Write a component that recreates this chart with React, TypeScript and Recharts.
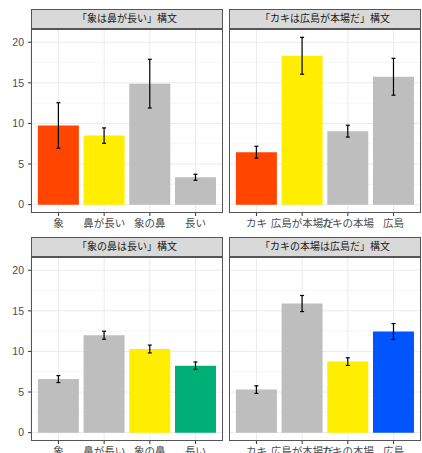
import React from "react";
import { BarChart, Bar, XAxis, YAxis, CartesianGrid, ErrorBar, Cell } from "recharts";

const titles = ["「象は鼻が長い」構文", "「カキは広島が本場だ」構文", "「象の鼻は長い」構文", "「カキの本場は広島だ」構文"];
const catsZou = ["象", "鼻が長い", "象の鼻", "長い"];
const catsKaki = ["カキ", "広島が本場だ", "カキの本場", "広島"];

const meanA = [9.75, 8.5, 14.9, 3.37];
const errA = [2.8, 0.95, 3.0, 0.37];
const colA = ["#FF4500", "#FFEE00", "#BEBEBE", "#BEBEBE"];

const meanB = [6.46, 18.33, 9.05, 15.75];
const errB = [0.73, 2.27, 0.73, 2.27];
const colB = ["#FF4500", "#FFEE00", "#BEBEBE", "#BEBEBE"];

const meanC = [6.6, 12.0, 10.3, 8.25];
const errC = [0.43, 0.49, 0.48, 0.45];
const colC = ["#BEBEBE", "#BEBEBE", "#FFEE00", "#00AF75"];

const meanD = [5.3, 15.9, 8.75, 12.45];
const errD = [0.47, 0.99, 0.47, 0.98];
const colD = ["#BEBEBE", "#BEBEBE", "#FFEE00", "#0055FF"];

const yTicks = [0, 5, 10, 15, 20];
const minorTicks = [2.5, 7.5, 12.5, 17.5];
const yDomain = [-1.03, 21.63];

const FONT = "'Liberation Sans', 'Noto Sans CJK JP', sans-serif";
const PLOT_H = 184;
const AXIS_H = 25;
const PANEL_W = 192;
const YAXIS_W = 31;

type PanelProps = {
  left: number;
  top: number;
  title: string;
  cats: string[];
  means: number[];
  errs: number[];
  colors: string[];
  showY: boolean;
};

function Panel({ left, top, title, cats, means, errs, colors, showY }: PanelProps) {
  const data = cats.map((c, i) => ({ cat: c, value: means[i], err: errs[i] }));
  const chartLeft = showY ? left - YAXIS_W : left;
  const chartW = showY ? PANEL_W + YAXIS_W : PANEL_W;
  return (
    <>
      <div
        style={{
          position: "absolute",
          left: left,
          top: top - 20,
          width: PANEL_W,
          height: 20,
          boxSizing: "border-box",
          background: "#D9D9D9",
          border: "1px solid #555",
          fontFamily: FONT,
          fontSize: 10,
          color: "#1A1A1A",
          textAlign: "center",
          lineHeight: "18px",
        }}
      >
        {title}
      </div>
      <div style={{ position: "absolute", left: chartLeft, top: top }}>
        <BarChart
          width={chartW}
          height={PLOT_H + AXIS_H}
          data={data}
          margin={{ top: 0, right: 0, bottom: 0, left: 0 }}
          barCategoryGap="5%"
        >
          <CartesianGrid
            stroke="#F2F2F2"
            strokeWidth={0.6}
            fill="#FFFFFF"
            vertical={false}
            horizontalValues={minorTicks}
          />
          <CartesianGrid stroke="#EBEBEB" strokeWidth={1} horizontalValues={yTicks} />
          <XAxis
            dataKey="cat"
            type="category"
            interval={0}
            padding={{ left: 4.6, right: 4.6 }}
            axisLine={false}
            tickLine={{ stroke: "#333333" }}
            tickSize={3}
            tickMargin={4}
            height={AXIS_H}
            tick={{ fill: "#4D4D4D", fontSize: 10.5, fontFamily: FONT }}
          />
          <YAxis
            type="number"
            domain={yDomain}
            allowDataOverflow
            ticks={yTicks}
            hide={!showY}
            width={YAXIS_W}
            axisLine={false}
            tickLine={{ stroke: "#333333" }}
            tickSize={3}
            tickMargin={4}
            tick={{ fill: "#4D4D4D", fontSize: 10.5, fontFamily: FONT }}
          />
          <Bar dataKey="value" isAnimationActive={false}>
            {data.map((d, i) => (
              <Cell key={d.cat} fill={colors[i]} />
            ))}
            <ErrorBar dataKey="err" width={2} stroke="#000000" strokeWidth={1.2} direction="y" />
          </Bar>
        </BarChart>
      </div>
      <div
        style={{
          position: "absolute",
          left: left,
          top: top,
          width: PANEL_W,
          height: PLOT_H,
          boxSizing: "border-box",
          border: "1px solid #555",
          pointerEvents: "none",
        }}
      />
    </>
  );
}

export default function App() {
  return (
    <div
      style={{
        position: "absolute",
        left: 0,
        top: 0,
        width: 422,
        height: 453,
        overflow: "hidden",
        background: "#FFFFFF",
      }}
    >
      <Panel left={31} top={29} title={titles[0]} cats={catsZou} means={meanA} errs={errA} colors={colA} showY />
      <Panel left={229} top={29} title={titles[1]} cats={catsKaki} means={meanB} errs={errB} colors={colB} showY={false} />
      <Panel left={31} top={257} title={titles[2]} cats={catsZou} means={meanC} errs={errC} colors={colC} showY />
      <Panel left={229} top={257} title={titles[3]} cats={catsKaki} means={meanD} errs={errD} colors={colD} showY={false} />
    </div>
  );
}
